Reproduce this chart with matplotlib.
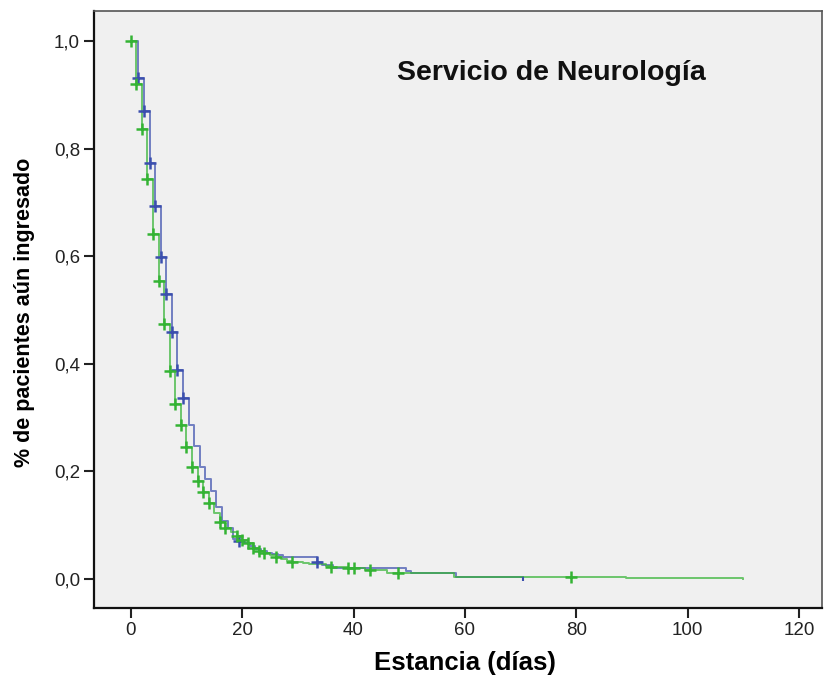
import numpy as np
import matplotlib.pyplot as plt
from matplotlib.transforms import offset_copy

plt.rcParams['font.family'] = ['Liberation Sans', 'DejaVu Sans']

# Kaplan-Meier estimates (day, proportion still admitted) for the two groups
blue_days = list(range(0, 28)) + [33, 34, 36, 49, 50, 58, 70]
blue_surv = [1.0, 0.932, 0.870, 0.774, 0.693, 0.599, 0.530, 0.459, 0.388, 0.337,
             0.287, 0.248, 0.209, 0.185, 0.163, 0.133, 0.108, 0.094, 0.075, 0.070,
             0.066, 0.061, 0.056, 0.052, 0.049, 0.046, 0.044, 0.040,
             0.032, 0.026, 0.021, 0.015, 0.011, 0.0045, 0.0045]
blue_cens = [1, 2, 3, 4, 5, 6, 7, 8, 9, 19, 33]
blue_last = 70

green_days = list(range(0, 30)) + [31, 32, 35, 36, 39, 42, 46, 58, 89, 97, 110]
green_surv = [1.0, 0.920, 0.836, 0.743, 0.641, 0.554, 0.474, 0.387, 0.325, 0.287,
              0.246, 0.209, 0.183, 0.162, 0.141, 0.122, 0.106, 0.095, 0.087, 0.080,
              0.072, 0.066, 0.058, 0.052, 0.049, 0.045, 0.041, 0.038, 0.034, 0.032,
              0.030, 0.028, 0.024, 0.023, 0.020, 0.017, 0.011, 0.004, 0.002, 0.001, 0.0]
green_cens = [0, 1, 2, 3, 4, 5, 6, 7, 8, 9, 10, 11, 12, 13, 14, 16, 17, 19, 20,
              21, 22, 23, 24, 26, 29, 36, 39, 40, 43, 48, 79]

x_ticks = [0, 20, 40, 60, 80, 100, 120]
y_ticks = [0.0, 0.2, 0.4, 0.6, 0.8, 1.0]
y_ticklabels = ["0,0", "0,2", "0,4", "0,6", "0,8", "1,0"]

BLUE = "#3b4fae"
GREEN = "#34b334"


def surv_at(days, surv, t):
    idx = np.searchsorted(days, t, side="right") - 1
    return np.asarray(surv)[idx]


def draw_curve(ax, days, surv, cens, color, trans):
    ax.step(days, surv, where="post", color=color, lw=1.4, alpha=0.7,
            transform=trans, zorder=2)
    ax.plot(cens, surv_at(days, surv, cens), ls="none", marker="+",
            ms=8, mew=1.8, color=color, transform=trans, zorder=3)


fig = plt.figure(figsize=(8.25, 6.8), dpi=100)
ax = fig.add_axes([94 / 825, 1 - 608 / 680, 728 / 825, 597 / 680])
ax.set_facecolor("#f0f0f0")

# blue drawn a hair to the right so the overlapping steps stay visible
blue_trans = offset_copy(ax.transData, fig=fig, x=1.5, y=0, units="points")
draw_curve(ax, blue_days, blue_surv, blue_cens, BLUE, blue_trans)
# last blue patient censored at the end of follow-up
ax.plot([blue_last], [surv_at(blue_days, blue_surv, blue_last)], ls="none",
        marker=3, ms=3, mew=1.5, color=BLUE, transform=blue_trans, zorder=3)
draw_curve(ax, green_days, green_surv, green_cens, GREEN, ax.transData)

ax.set_xlim(-6.6, 124.1)
ax.set_ylim(-0.054, 1.056)
ax.set_xticks(x_ticks)
ax.set_yticks(y_ticks)
ax.set_yticklabels(y_ticklabels)
ax.tick_params(direction="out", length=7, width=1.5, labelsize=13.5,
               colors="#222222", pad=3)

for side in ["left", "bottom"]:
    ax.spines[side].set_linewidth(1.6)
    ax.spines[side].set_color("#111111")
for side in ["top", "right"]:
    ax.spines[side].set_linewidth(1.2)
    ax.spines[side].set_color("#555555")

ax.text(0.628, 0.896, "Servicio de Neurología", transform=ax.transAxes,
        ha="center", va="center", fontsize=20.5, fontweight="bold", color="#111111")

ax.set_xlabel("Estancia (días)", fontsize=18.5, fontweight="bold")
ax.xaxis.set_label_coords(0.51, -0.072)
ax.set_ylabel("% de pacientes aún ingresado", fontsize=15.5, fontweight="bold")
ax.yaxis.set_label_coords(-0.081, 0.496)

fig.savefig("out.png", dpi=100)
